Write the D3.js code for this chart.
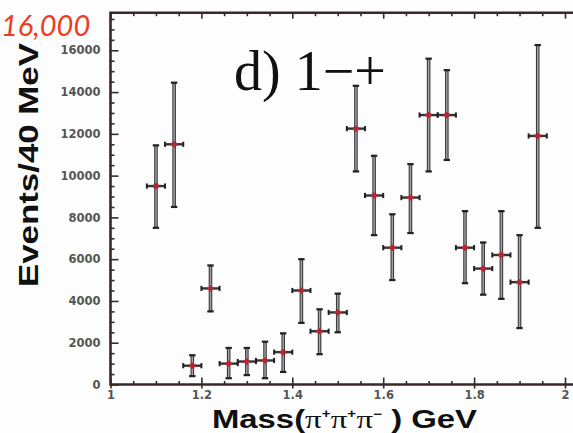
<!DOCTYPE html>
<html><head><meta charset="utf-8">
<script src="https://cdn.jsdelivr.net/npm/d3@7"></script>
<style>html,body{margin:0;padding:0;background:#fdfdfd;} svg{display:block;}</style>
</head><body>
<script>
// ---- data ----
const massBins = [1.10,1.14,1.18,1.22,1.26,1.30,1.34,1.38,1.42,1.46,1.50,1.54,1.58,1.62,1.66,1.70,1.74,1.78,1.82,1.86,1.90,1.94];
const events   = [9500,11500,900,4600,1000,1100,1150,1550,4500,2550,3450,12250,9050,6550,8950,12900,12900,6550,5550,6200,4900,11900];
const errLower = [7500,8500,400,3500,300,450,300,600,2950,1450,2500,10200,7150,5000,7250,10200,10750,4850,4300,4100,2700,7500];
const errUpper = [11450,14450,1400,5700,1750,1750,2050,2450,6000,3600,4350,14300,10950,8150,10550,15600,15050,8300,6800,8300,7150,16250];
const binHalfWidth = 0.02;
const xMajorTicks = [1,1.2,1.4,1.6,1.8,2];
const xTickLabels = ["1","1.2","1.4","1.6","1.8","2"];
const yMajorTicks = [0,2000,4000,6000,8000,10000,12000,14000,16000];
const yTickLabels = ["0","2000","4000","6000","8000","10000","12000","14000","16000"];
const yMax = 17800;

const W = 573, H = 433;
const svg = d3.select("body").append("svg").attr("width", W).attr("height", H);
svg.append("rect").attr("width", W).attr("height", H).attr("fill", "#fdfdfd");

const x = d3.scaleLinear().domain([1, 2]).range([110.5, 565]);
const y = d3.scaleLinear().domain([0, yMax]).range([384.5, 12.7]);
const x0 = x(1), yBot = y(0), yTop = y(yMax);

const xMinor = d3.range(1, 2.051, 0.05).filter(v => Math.abs(v*5 - Math.round(v*5)) > 1e-6);
const yMinor = d3.range(0, yMax, 500).filter(v => v % 2000 !== 0);
const axisColor = "#3a2828";

function styleAxis(g){
  g.select(".domain").remove();
  g.selectAll(".tick line").attr("stroke", axisColor).attr("stroke-width", 1.6);
  g.selectAll(".tick text").attr("fill", "#555").attr("font-family", "DejaVu Sans, sans-serif")
    .attr("font-weight", "bold").attr("font-size", 11.5);
}

// bottom axis
svg.append("g").attr("transform", `translate(0,${yBot})`)
  .call(d3.axisTop(x).tickValues(xMajorTicks).tickSize(7).tickFormat("")).call(styleAxis);
svg.append("g").attr("transform", `translate(0,${yBot})`)
  .call(d3.axisTop(x).tickValues(xMinor).tickSize(3.5).tickFormat("")).call(styleAxis);
svg.append("g").attr("transform", `translate(0,${yBot})`)
  .call(d3.axisBottom(x).tickValues(xMajorTicks).tickSize(4).tickPadding(2)
    .tickFormat((d,i) => xTickLabels[i])).call(styleAxis);
// top axis
svg.append("g").attr("transform", `translate(0,${yTop})`)
  .call(d3.axisBottom(x).tickValues(xMajorTicks).tickSize(6).tickFormat("")).call(styleAxis);
svg.append("g").attr("transform", `translate(0,${yTop})`)
  .call(d3.axisBottom(x).tickValues(xMinor).tickSize(3.5).tickFormat("")).call(styleAxis);
// left axis
svg.append("g").attr("transform", `translate(${x0},0)`)
  .call(d3.axisRight(y).tickValues(yMajorTicks).tickSize(8).tickFormat("")).call(styleAxis);
svg.append("g").attr("transform", `translate(${x0},0)`)
  .call(d3.axisRight(y).tickValues(yMinor).tickSize(4).tickFormat("")).call(styleAxis);
svg.append("g").attr("transform", `translate(${x0},0)`)
  .call(d3.axisLeft(y).tickValues(yMajorTicks).tickSize(0).tickPadding(10)
    .tickFormat((d,i) => yTickLabels[i])).call(styleAxis);

// frame
svg.append("path")
  .attr("d", `M${W+2},${yTop}H${x0}V${yBot}H${W+2}`)
  .attr("fill", "none").attr("stroke", axisColor).attr("stroke-width", 2.6);

// data points with error bars
const pts = massBins.map((m,i) => ({m, v: events[i], lo: errLower[i], hi: errUpper[i]}));
const gp = svg.append("g");
const p = gp.selectAll("g").data(pts).join("g");
p.append("line").attr("x1", d => x(d.m)).attr("x2", d => x(d.m))
  .attr("y1", d => y(d.hi)).attr("y2", d => y(d.lo))
  .attr("stroke", "#3a3a3a").attr("stroke-width", 3.6);
p.append("line").attr("x1", d => x(d.m)).attr("x2", d => x(d.m))
  .attr("y1", d => y(d.hi)+1).attr("y2", d => y(d.lo)-1)
  .attr("stroke", "#a5a5a5").attr("stroke-width", 1.4);
["hi","lo"].forEach(k => {
  p.append("line").attr("x1", d => x(d.m)-3.2).attr("x2", d => x(d.m)+3.2)
    .attr("y1", d => y(d[k])).attr("y2", d => y(d[k]))
    .attr("stroke", "#222").attr("stroke-width", 2.2);
});
p.append("line").attr("x1", d => x(d.m - binHalfWidth)).attr("x2", d => x(d.m + binHalfWidth))
  .attr("y1", d => y(d.v)).attr("y2", d => y(d.v))
  .attr("stroke", "#333").attr("stroke-width", 2.4);
[-1,1].forEach(s => {
  p.append("line").attr("x1", d => x(d.m + s*binHalfWidth)).attr("x2", d => x(d.m + s*binHalfWidth))
    .attr("y1", d => y(d.v)-2.6).attr("y2", d => y(d.v)+2.6)
    .attr("stroke", "#222").attr("stroke-width", 2);
});
p.append("rect").attr("x", d => x(d.m)-3).attr("y", d => y(d.v)-1.6)
  .attr("width", 6).attr("height", 3.2).attr("fill", "#c02838");
p.append("rect").attr("x", d => x(d.m)-1.2).attr("y", d => y(d.v)-3)
  .attr("width", 2.4).attr("height", 6).attr("fill", "#b52535");

// panel label
svg.append("text").attr("x", 234).attr("y", 90)
  .attr("font-family", "Liberation Serif, Times New Roman, serif").attr("font-size", 56)
  .attr("fill", "#111").text("d) 1\u2212+");

// y axis title
svg.append("text").attr("transform", "translate(38,165) rotate(-90)")
  .attr("text-anchor", "middle").attr("font-family", "Liberation Sans, Arial, sans-serif")
  .attr("font-weight", "bold").attr("font-size", 28).attr("fill", "#111")
  .attr("textLength", 244).attr("lengthAdjust", "spacingAndGlyphs")
  .text("Events/40 MeV");

// x axis title
const xt = svg.append("text").attr("x", 212).attr("y", 428)
  .attr("font-family", "Liberation Sans, Arial, sans-serif").attr("font-weight", "bold")
  .attr("font-size", 26).attr("fill", "#111");
xt.append("tspan").text("Mass(");
const piParts = [["\u03c0","+"],["\u03c0","+"],["\u03c0","\u2212"]];
piParts.forEach(([a,b]) => {
  xt.append("tspan").attr("font-family", "Liberation Serif, serif").attr("font-weight", "normal").text(a);
  xt.append("tspan").attr("font-family", "Liberation Sans, sans-serif").attr("font-size", 12)
    .attr("dy", -10).text(b);
  xt.append("tspan").attr("dy", 10).attr("font-size", 2).text("\u200a");
});
xt.append("tspan").text(" ) GeV");
const bb = xt.node().getBBox();
const sx = 266 / bb.width;
xt.attr("transform", `translate(${212 - 212*sx},0) scale(${sx},1)`);

// annotation
svg.append("text").attr("x", 1).attr("y", 36)
  .attr("font-family", "Lato, Open Sans, sans-serif").attr("font-style", "italic")
  .attr("font-size", 29).attr("fill", "#ee3d1c").text("16,000");
</script>
</body></html>
